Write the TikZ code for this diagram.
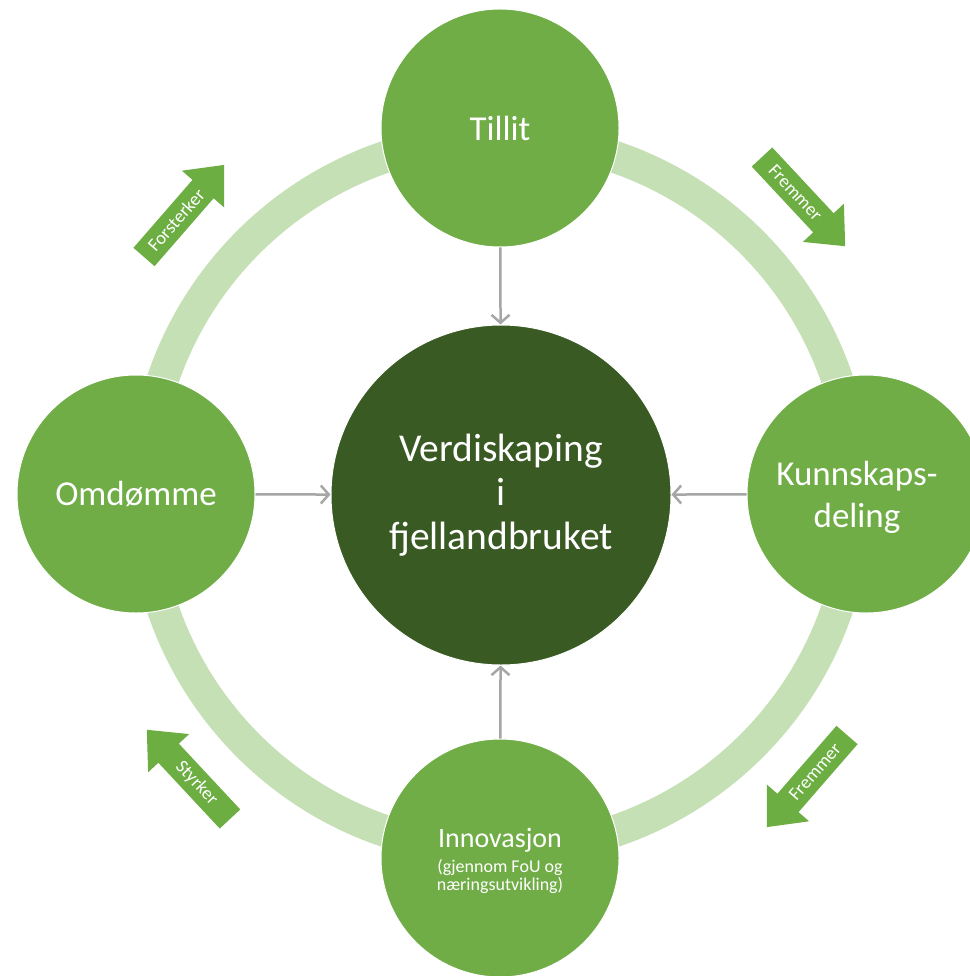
\documentclass[tikz,border=0pt]{standalone}
\usepackage{fontspec}
\setmainfont{Carlito}
\usetikzlibrary{arrows.meta}
\definecolor{ringc}{HTML}{C5E0B4}
\definecolor{circc}{HTML}{70AD47}
\definecolor{darkc}{HTML}{3A5A24}
\definecolor{connc}{HTML}{A6A6A6}
\definecolor{arrc}{HTML}{6CAE42}
\newcommand{\blkarrow}[6]{%
  \begin{scope}[shift={(#2,#3)}, rotate=#4]
    \fill[arrc] (0,-14) -- (90,-14) -- (90,-28) -- (122,0) -- (90,28) -- (90,14) -- (0,14) -- cycle;
    \node[arrtxt, rotate=#5] (#1) at (49,0) {#6};
  \end{scope}}
\begin{document}
\begin{tikzpicture}[x=1pt,y=-1pt,
  bub/.style={circle, fill=circc, draw=white, line width=1pt, minimum size=238pt, inner sep=0pt, text=white, align=center, font=\fontsize{35}{42}\selectfont},
  hub/.style={circle, fill=darkc, draw=white, line width=1pt, minimum size=340pt, inner sep=0pt, text=white, align=center, font=\fontsize{39.5}{44}\selectfont},
  lbl/.style={text=white, align=center, inner sep=0pt},
  conn/.style={draw=connc, line width=2.5pt, -{Straight Barb[length=8pt,width=18pt]}},
  arrtxt/.style={text=white, font=\fontsize{18.5}{20}\selectfont, inner sep=0pt}]
\useasboundingbox (0,0) rectangle (969,976);
\fill[white] (0,0) rectangle (969,976);
\draw[ringc, line width=32pt] (500,494) circle[radius=356];
\node[hub] (hub) at (501,495) {Verdiskaping\\i\\fjellandbruket};
\node[bub] (tillit) at (500,128) {Tillit};
\node[bub] (omd) at (136,494) {Omdømme};
\node[bub] (kunn) at (866,494) {};
\node[lbl, font=\fontsize{35}{42}\selectfont] (kunntxt) at (857,497) {Kunnskaps-\\deling};
\node[bub] (innov) at (500,858) {};
\node[lbl, font=\fontsize{28}{30}\selectfont] (innovtxt) at (500,840) {Innovasjon};
\node[lbl, font=\fontsize{18}{18}\selectfont] (innovsub) at (500,876) {(gjennom FoU og\\næringsutvikling)};
\draw[conn] (tillit) -- (hub);
\draw[conn] (omd) -- (hub);
\draw[conn] (kunn) -- (hub);
\draw[conn] (innov) -- (hub);
\blkarrow{aForst}{144}{257}{49}{49}{Forsterker}
\blkarrow{aFremA}{762}{157}{-47}{-47}{Fremmer}
\blkarrow{aFremB}{847}{735}{229}{49}{Fremmer}
\blkarrow{aStyr}{230}{819}{133}{-47}{Styrker}
\end{tikzpicture}
\end{document}
